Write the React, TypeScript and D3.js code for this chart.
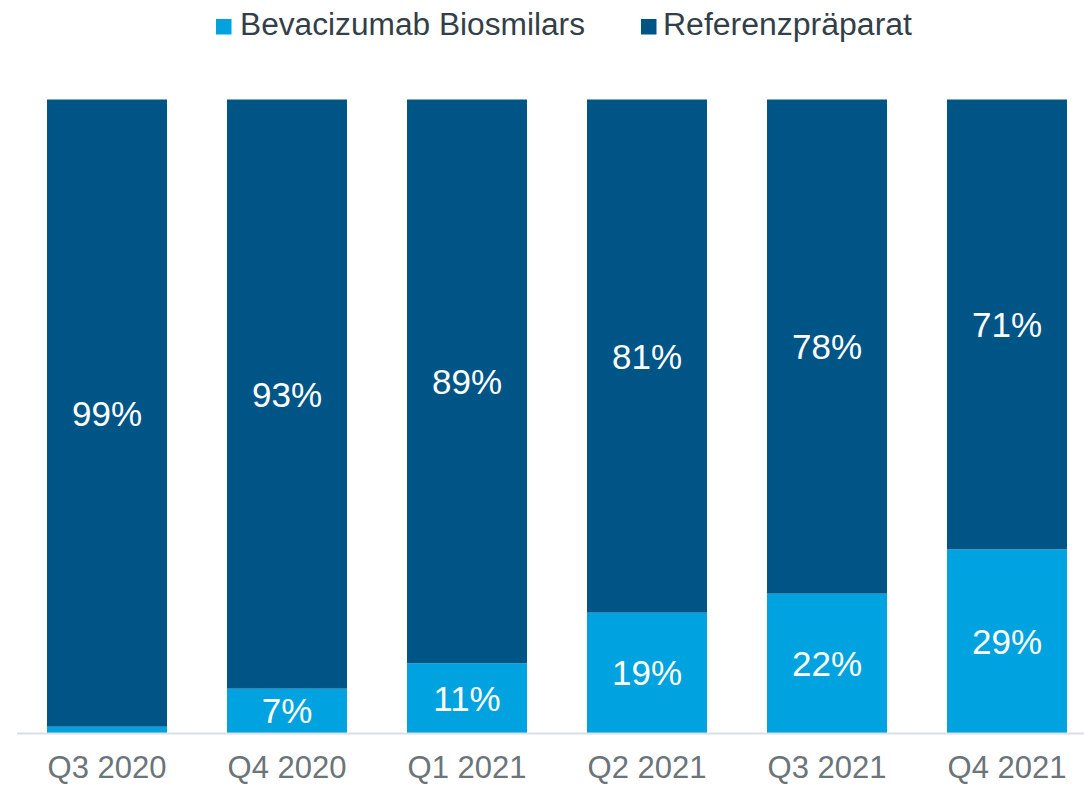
import React from "react";
import * as d3 from "d3";

const categories = ["Q3 2020", "Q4 2020", "Q1 2021", "Q2 2021", "Q3 2021", "Q4 2021"];
const biosimilars = [1, 7, 11, 19, 22, 29];
const reference = [99, 93, 89, 81, 78, 71];
const seriesNames = ["Bevacizumab Biosmilars", "Referenzpräparat"];

const W = 1084;
const H = 785;
const LIGHT = "#00a3e0";
const DARK = "#005587";
const FONT = "'Liberation Sans', Arial, sans-serif";

export default function App() {
  const x = d3
    .scaleBand<string>()
    .domain(categories)
    .range([17, 1097])
    .paddingInner(1 / 3)
    .paddingOuter(1 / 6);
  const y = d3.scaleLinear().domain([0, 100]).range([733, 99.5]);

  const stacked = categories.map((c, i) => ({
    c,
    segs: [
      { name: seriesNames[0], v0: 0, v1: biosimilars[i], color: LIGHT, label: biosimilars[i] },
      { name: seriesNames[1], v0: biosimilars[i], v1: biosimilars[i] + reference[i], color: DARK, label: reference[i] },
    ],
  }));

  return (
    <svg
      width={W}
      height={H}
      style={{ position: "absolute", left: 0, top: 0, background: "#fff" }}
      fontFamily={FONT}
    >
      {/* legend */}
      <rect x={216} y={19} width={15.5} height={15.5} fill={LIGHT} />
      <text x={240} y={35} fontSize={31} fill="#333f48" textLength={345} lengthAdjust="spacingAndGlyphs">
        {seriesNames[0]}
      </text>
      <rect x={641} y={19} width={15.5} height={15.5} fill={DARK} />
      <text x={663} y={35} fontSize={31} fill="#333f48" textLength={249} lengthAdjust="spacingAndGlyphs">
        {seriesNames[1]}
      </text>

      {stacked.map((d) => (
        <g key={d.c}>
          {d.segs.map((s) => (
            <rect
              key={s.name}
              x={x(d.c)}
              y={y(s.v1)}
              width={x.bandwidth()}
              height={y(s.v0) - y(s.v1)}
              fill={s.color}
            />
          ))}
          {d.segs.map((s) =>
            s.label >= 5 ? (
              <text
                key={s.name + "l"}
                x={(x(d.c) as number) + x.bandwidth() / 2}
                y={(y(s.v0) + y(s.v1)) / 2}
                dy="0.36em"
                textAnchor="middle"
                fontSize={35}
                fill="#fff"
              >
                {s.label}%
              </text>
            ) : null
          )}
          <text
            x={(x(d.c) as number) + x.bandwidth() / 2}
            y={778}
            textAnchor="middle"
            fontSize={31}
            fill="#6b7479"
          >
            {d.c}
          </text>
        </g>
      ))}
      <line x1={17} x2={W} y1={733.5} y2={733.5} stroke="#d9e0e5" strokeWidth={2} />
    </svg>
  );
}
